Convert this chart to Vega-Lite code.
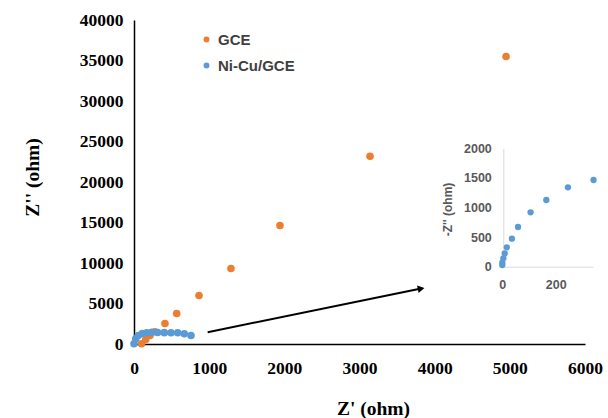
{
  "$schema": "https://vega.github.io/schema/vega-lite/v6.json",
  "width": 451,
  "height": 324,
  "autosize": {"type": "none"},
  "padding": {"left": 134, "top": 20, "right": 23, "bottom": 74},
  "background": "white",
  "config": {
    "view": {"stroke": null},
    "axis": {"grid": false, "ticks": false}
  },
  "layer": [
    {
      "layer": [
        {
          "data": {
            "values": [
              {"series": "GCE", "x": 100, "y": 30},
              {"series": "GCE", "x": 156, "y": 556},
              {"series": "GCE", "x": 213, "y": 1049},
              {"series": "GCE", "x": 279, "y": 1506},
              {"series": "GCE", "x": 412, "y": 2531},
              {"series": "GCE", "x": 568, "y": 3765},
              {"series": "GCE", "x": 865, "y": 5988},
              {"series": "GCE", "x": 1290, "y": 9321},
              {"series": "GCE", "x": 1942, "y": 14630},
              {"series": "GCE", "x": 3140, "y": 23185},
              {"series": "GCE", "x": 4950, "y": 35500},
              {"series": "Ni-Cu/GCE", "x": 0, "y": 25},
              {"series": "Ni-Cu/GCE", "x": 23, "y": 642},
              {"series": "Ni-Cu/GCE", "x": 57, "y": 1049},
              {"series": "Ni-Cu/GCE", "x": 110, "y": 1296},
              {"series": "Ni-Cu/GCE", "x": 169, "y": 1383},
              {"series": "Ni-Cu/GCE", "x": 235, "y": 1457},
              {"series": "Ni-Cu/GCE", "x": 315, "y": 1420},
              {"series": "Ni-Cu/GCE", "x": 403, "y": 1400},
              {"series": "Ni-Cu/GCE", "x": 492, "y": 1390},
              {"series": "Ni-Cu/GCE", "x": 581, "y": 1383},
              {"series": "Ni-Cu/GCE", "x": 669, "y": 1259},
              {"series": "Ni-Cu/GCE", "x": 758, "y": 1049}
            ]
          },
          "mark": {"type": "point", "filled": true, "opacity": 1, "size": 58},
          "encoding": {
            "x": {
              "field": "x", "type": "quantitative",
              "scale": {"domain": [0, 6000], "nice": false, "zero": false},
              "axis": {
                "title": "Z' (ohm)",
                "values": [0, 1000, 2000, 3000, 4000, 5000, 6000],
                "format": "d",
                "domainColor": "black", "domainWidth": 1.5,
                "labelFont": "Liberation Serif", "labelFontWeight": "bold", "labelFontSize": 17.5, "labelColor": "black",
                "labelPadding": 15, "labelFlush": false, "labelOverlap": false,
                "titleFont": "Liberation Serif", "titleFontWeight": "bold", "titleFontSize": 19.5, "titleColor": "black",
                "titleX": 239, "titleY": 64, "titleBaseline": "middle", "titleAlign": "center"
              }
            },
            "y": {
              "field": "y", "type": "quantitative",
              "scale": {"domain": [0, 40000], "nice": false, "zero": false},
              "axis": {
                "title": "Z'' (ohm)",
                "values": [0, 5000, 10000, 15000, 20000, 25000, 30000, 35000, 40000],
                "format": "d",
                "domainColor": "black", "domainWidth": 1.5,
                "labelFont": "Liberation Serif", "labelFontWeight": "bold", "labelFontSize": 17.5, "labelColor": "black",
                "labelPadding": 11, "labelFlush": false, "labelOverlap": false,
                "titleFont": "Liberation Serif", "titleFontWeight": "bold", "titleFontSize": 19.5, "titleColor": "black",
                "titleX": -102, "titleY": 157, "titleBaseline": "middle", "titleAlign": "center", "titleAngle": 270
              }
            },
            "color": {
              "field": "series", "type": "nominal",
              "scale": {"domain": ["GCE", "Ni-Cu/GCE"], "range": ["#ED7D31", "#5B9BD5"]},
              "legend": {
                "title": null,
                "orient": "none", "legendX": 65, "legendY": 12,
                "padding": 0,
                "symbolType": "circle", "symbolSize": 35, "symbolStrokeWidth": 0,
                "labelFont": "Liberation Sans", "labelFontWeight": "bold", "labelFontSize": 15, "labelColor": "#404040",
                "labelOffset": 4, "rowPadding": 10
              }
            }
          }
        },
        {
          "data": {"values": [{"x": 980, "y": 1457, "x2": 3820, "y2": 6840}]},
          "mark": {"type": "rule", "color": "black", "strokeWidth": 2},
          "encoding": {
            "x": {"field": "x", "type": "quantitative"},
            "y": {"field": "y", "type": "quantitative"},
            "x2": {"field": "x2"},
            "y2": {"field": "y2"}
          }
        },
        {
          "data": {"values": [{"x": 3820, "y": 6840}]},
          "mark": {"type": "point", "shape": "triangle-right", "filled": true, "color": "black", "opacity": 1, "size": 60, "angle": 348.5},
          "encoding": {
            "x": {"field": "x", "type": "quantitative"},
            "y": {"field": "y", "type": "quantitative"}
          }
        }
      ]
    },
    {
      "data": {
        "values": [
          {"x": 0, "y": 28},
          {"x": 0, "y": 68},
          {"x": 4, "y": 141},
          {"x": 9, "y": 225},
          {"x": 17, "y": 327},
          {"x": 36, "y": 473},
          {"x": 59, "y": 670},
          {"x": 106, "y": 918},
          {"x": 165, "y": 1127},
          {"x": 246, "y": 1341},
          {"x": 342, "y": 1465}
        ]
      },
      "mark": {"type": "point", "filled": true, "opacity": 1, "size": 40, "color": "#5B9BD5"},
      "encoding": {
        "x": {
          "field": "x", "type": "quantitative",
          "scale": {"domain": [0, 340], "range": [368.3, 459], "nice": false, "zero": false},
          "axis": {
            "orient": "bottom", "offset": -77.3, "title": null,
            "values": [0, 200], "format": "d",
            "domainColor": "#d9d9d9", "domainWidth": 1,
            "labelFont": "Liberation Sans", "labelFontWeight": "bold", "labelFontSize": 12.5, "labelColor": "#595959",
            "labelPadding": 12, "labelFlush": false
          }
        },
        "y": {
          "field": "y", "type": "quantitative",
          "scale": {"domain": [0, 2000], "range": [246.7, 128.3], "nice": false, "zero": false},
          "axis": {
            "orient": "left", "offset": -369.3, "title": "-Z'' (ohm)",
            "values": [0, 500, 1000, 1500, 2000], "format": "d",
            "domainColor": "#d9d9d9", "domainWidth": 1,
            "labelFont": "Liberation Sans", "labelFontWeight": "bold", "labelFontSize": 12.5, "labelColor": "#595959",
            "labelPadding": 12, "labelFlush": false,
            "titleFont": "Liberation Sans", "titleFontWeight": "bold", "titleFontSize": 12, "titleColor": "#595959",
            "titleX": -56, "titleY": 189, "titleBaseline": "middle", "titleAlign": "center", "titleAngle": 270
          }
        }
      }
    }
  ],
  "resolve": {
    "scale": {"x": "independent", "y": "independent"},
    "axis": {"x": "independent", "y": "independent"}
  }
}
